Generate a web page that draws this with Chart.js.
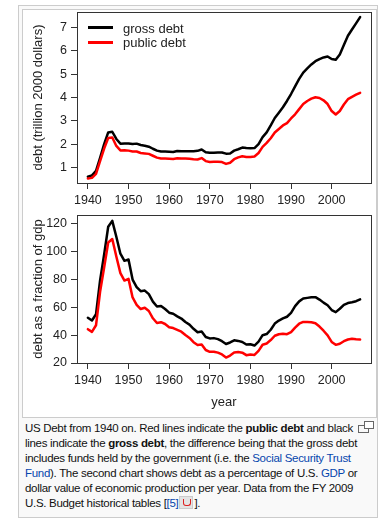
<!DOCTYPE html>
<html><head><meta charset="utf-8">
<script src="https://cdn.jsdelivr.net/npm/chart.js@4.4.1/dist/chart.umd.min.js"></script>
<style>
html,body{margin:0;padding:0;background:#fff;}
body{width:390px;height:530px;position:relative;overflow:hidden;font-family:'Liberation Sans',Arial,sans-serif;}
#outer{position:absolute;left:18px;top:5px;width:358px;height:511px;border:1px solid #ccc;background:#f9f9f9;}
#img{position:absolute;left:22px;top:9px;width:353px;height:407px;border:1px solid #ccc;background:#fff;}
canvas{position:absolute;}
#c1{left:22px;top:9px;}
#c2{left:22px;top:210px;}
.leg{position:absolute;font-size:13px;color:#222;line-height:15px;white-space:nowrap;}
.legline{position:absolute;width:25px;height:2.5px;}
#cap{position:absolute;left:25px;top:421px;font-size:11.5px;letter-spacing:-0.3px;line-height:15px;color:#111;white-space:nowrap;}
#cap a{color:#0645ad;text-decoration:none;}
.pdf{display:inline-block;width:14px;height:13px;background:#e4e4e4;border:1px solid #ccc;vertical-align:-2px;margin:0 1px;position:relative;box-sizing:border-box;}
.pdf i{position:absolute;left:3px;top:2px;width:6px;height:6px;border:1.5px solid #d22;border-radius:0 0 3px 3px;border-top:none;}
#mag1{position:absolute;left:364px;top:421px;width:8px;height:6px;border:1px solid #666;background:#fff;}
#mag2{position:absolute;left:358px;top:425px;width:9px;height:6px;border:1px solid #666;background:#f9f9f9;}
</style></head>
<body>
<div id="outer"></div>
<div id="img"></div>
<canvas id="c1" width="354" height="201"></canvas>
<canvas id="c2" width="354" height="207"></canvas>
<div id="legend"></div>
<div id="mag2"></div><div id="mag1"></div>
<div id="cap">US Debt from 1940 on. Red lines indicate the <b>public debt</b> and black<br>lines indicate the <b>gross debt</b>, the difference being that the gross debt<br>includes funds held by the government (i.e. the <a>Social Security Trust</a><br><a>Fund</a>). The second chart shows debt as a percentage of U.S. <a>GDP</a> or<br>dollar value of economic production per year. Data from the FY 2009<br>U.S. Budget historical tables [<a>[5]</a><span class="pdf"><i></i></span>].</div>
<script>
const years = [1940,1941,1942,1943,1944,1945,1946,1947,1948,1949,
1950,1951,1952,1953,1954,1955,1956,1957,1958,1959,
1960,1961,1962,1963,1964,1965,1966,1967,1968,1969,
1970,1971,1972,1973,1974,1975,1976,1977,1978,1979,
1980,1981,1982,1983,1984,1985,1986,1987,1988,1989,
1990,1991,1992,1993,1994,1995,1996,1997,1998,1999,
2000,2001,2002,2003,2004,2005,2006,2007];

const seriesNames = ['gross debt','public debt'];
const seriesColors = ['#000000','#ff0000'];

// trillion 2000 dollars
const grossReal = [0.60,0.66,0.85,1.41,2.00,2.50,2.53,2.22,2.02,2.03,
2.03,2.00,2.02,1.96,1.93,1.89,1.80,1.72,1.68,1.68,
1.67,1.66,1.70,1.69,1.69,1.69,1.69,1.71,1.77,1.65,
1.63,1.63,1.64,1.64,1.59,1.60,1.72,1.78,1.85,1.83,
1.82,1.83,2.00,2.30,2.50,2.80,3.12,3.35,3.58,3.85,
4.15,4.48,4.80,5.07,5.25,5.42,5.56,5.65,5.72,5.76,
5.65,5.62,5.85,6.25,6.65,6.92,7.18,7.45];
const publicReal = [0.52,0.55,0.72,1.27,1.81,2.26,2.28,1.92,1.73,1.74,
1.72,1.68,1.68,1.62,1.60,1.58,1.50,1.42,1.38,1.38,
1.37,1.36,1.39,1.38,1.38,1.37,1.35,1.34,1.40,1.27,
1.23,1.24,1.24,1.23,1.15,1.20,1.35,1.43,1.48,1.45,
1.45,1.47,1.62,1.88,2.05,2.25,2.50,2.65,2.80,2.90,
3.10,3.28,3.50,3.72,3.85,3.95,4.01,3.98,3.88,3.72,
3.42,3.27,3.42,3.70,3.93,4.03,4.12,4.20];

// percent of GDP
const grossGdp = [52.4,50.4,54.9,79.1,97.6,117.5,121.7,110.3,98.2,93.1,
94.1,79.7,74.3,71.4,71.8,69.3,63.9,60.4,60.8,58.6,
56.0,55.2,53.4,51.8,49.3,47.5,44.5,42.0,42.5,38.6,
37.6,37.8,37.1,35.6,33.6,34.7,36.2,35.8,35.0,33.2,
33.4,32.5,35.3,39.9,40.7,43.8,48.2,50.4,51.9,53.1,
55.9,60.7,64.1,66.1,66.6,67.0,67.1,65.4,63.2,61.3,
57.9,56.4,58.8,61.6,62.9,63.5,64.2,65.5];
const publicGdp = [44.2,42.3,47.0,70.9,88.3,106.2,108.7,96.2,84.3,79.0,
80.2,66.9,61.6,58.6,59.5,57.2,52.0,48.6,49.2,47.9,
45.6,45.0,43.7,42.4,40.0,37.9,34.9,32.9,33.3,29.3,
28.0,28.1,27.4,26.1,23.9,25.3,27.5,27.8,27.4,25.6,
26.1,25.8,28.7,33.1,34.0,36.4,39.5,40.6,41.0,40.6,
42.1,45.3,48.1,49.4,49.3,49.2,48.5,46.1,43.1,39.8,
35.1,33.0,33.8,35.6,36.8,37.4,37.0,36.8];

const xTicks = [1940,1950,1960,1970,1980,1990,2000];
const yTicks1 = [1,2,3,4,5,6,7];
const yTicks2 = [20,40,60,80,100,120];
const yTitle1 = 'debt (trillion 2000 dollars)';
const yTitle2 = 'debt as a fraction of gdp';
const xTitle2 = 'year';

Chart.defaults.font.family = "'Liberation Sans', Arial, sans-serif";
Chart.defaults.color = '#222';

const pts = arr => arr.map((v,i)=>({x:years[i], y:v}));

const boxPlugin = {id:'box', afterDatasetsDraw(chart){
  const {ctx, chartArea:a} = chart;
  ctx.save(); ctx.strokeStyle='#333'; ctx.lineWidth=1;
  ctx.strokeRect(Math.round(a.left)+0.5, Math.round(a.top)+0.5, Math.round(a.right-a.left), Math.round(a.bottom-a.top));
  ctx.restore();
}};

function makeDatasets(g,p){
  return [
    {label:seriesNames[0], data:pts(g), borderColor:seriesColors[0], borderWidth:2.5, pointRadius:0, tension:0, order:1, borderJoinStyle:'round', borderCapStyle:'round'},
    {label:seriesNames[1], data:pts(p), borderColor:seriesColors[1], borderWidth:2.5, pointRadius:0, tension:0, order:0, borderJoinStyle:'round', borderCapStyle:'round'}
  ];
}
const gridOpts = {drawOnChartArea:false, drawTicks:true, tickLength:6, color:'#333', lineWidth:1};

function xScale(h, title){
  return {type:'linear', min:1937.32, max:2009.68,
    afterBuildTicks:s=>{s.ticks = xTicks.map(v=>({value:v}));},
    afterFit:s=>{s.height=h; s.paddingLeft=0; s.paddingRight=0;},
    grid:gridOpts, border:{display:false},
    ticks:{font:{size:12.5}, color:'#222', padding:4, maxRotation:0, autoSkip:false, callback:v=>String(v)},
    title: title ? {display:true, text:title, font:{size:13}, color:'#222', padding:{top:0,bottom:7}} : {display:false}
  };
}
function yScale(min,max,ticks,title){
  return {type:'linear', min:min, max:max,
    afterBuildTicks:s=>{s.ticks = ticks.map(v=>({value:v}));},
    afterFit:s=>{s.width=55; s.paddingTop=0; s.paddingBottom=0;},
    grid:gridOpts, border:{display:false},
    ticks:{font:{size:12.5}, color:'#222', padding:4, autoSkip:false, callback:v=>String(v)},
    title:{display:true, text:title, font:{size:13}, color:'#222', padding:{top:8.4,bottom:0}}
  };
}
const baseOpts = (padTop, scales) => ({
  responsive:false, animation:false, devicePixelRatio:1,
  layout:{padding:{top:padTop,right:5,left:0,bottom:0}},
  plugins:{legend:{display:false}, tooltip:{enabled:false}},
  scales:scales
});

new Chart(document.getElementById('c1'), {
  type:'line',
  data:{datasets:makeDatasets(grossReal, publicReal)},
  options:baseOpts(3, {x:xScale(27,null), y:yScale(0.33,7.67,yTicks1,yTitle1)}),
  plugins:[boxPlugin]
});
new Chart(document.getElementById('c2'), {
  type:'line',
  data:{datasets:makeDatasets(grossGdp, publicGdp)},
  options:baseOpts(5, {x:xScale(54,xTitle2), y:yScale(20,125.9,yTicks2,yTitle2)}),
  plugins:[boxPlugin]
});

// legend (HTML text)
const legendTops = [27.7, 42.3];
const leg = document.getElementById('legend');
seriesNames.forEach((n,i)=>{
  const l = document.createElement('div'); l.className='legline';
  l.style.left='88px'; l.style.top=(legendTops[i]-1.25)+'px'; l.style.background=seriesColors[i];
  leg.appendChild(l);
  const t = document.createElement('div'); t.className='leg'; t.textContent=n;
  t.style.left='123px'; t.style.top=(legendTops[i]-7)+'px';
  leg.appendChild(t);
});
</script>
</body></html>
